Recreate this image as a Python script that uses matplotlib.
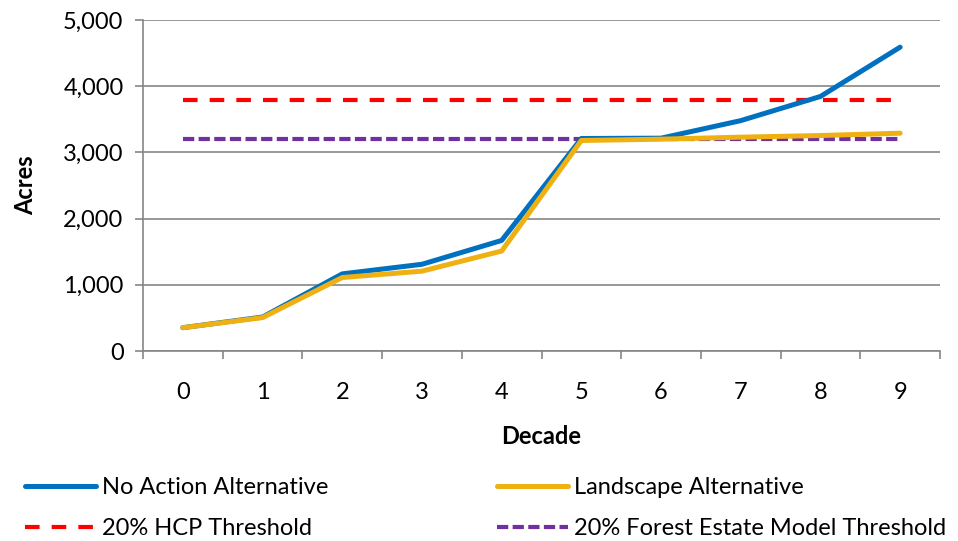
import matplotlib
matplotlib.use("Agg")
import matplotlib.pyplot as plt

plt.rcParams['font.family'] = ['Lato', 'DejaVu Sans']

decades = [0, 1, 2, 3, 4, 5, 6, 7, 8, 9]
no_action = [352, 513, 1165, 1310, 1670, 3210, 3215, 3480, 3845, 4590]
landscape = [352, 505, 1110, 1206, 1510, 3180, 3200, 3230, 3255, 3290]
hcp_threshold = [3795] * 10
fem_threshold = [3205] * 10
y_ticks = [0, 1000, 2000, 3000, 4000, 5000]

FS = 17
fig = plt.figure(figsize=(9.58, 5.41), dpi=100)
ax = fig.add_axes([143/958, 1-351/541, (940-143)/958, (351-20)/541])

grid_c = '#868686'
ax.plot(decades, hcp_threshold, color='#FF0000', lw=3, dashes=(3.5, 2.9), label='20% HCP Threshold', zorder=3)
ax.plot(decades, fem_threshold, color='#7030A0', lw=3, dashes=(2.7, 1.05), label='20% Forest Estate Model Threshold', zorder=3)
ax.plot(decades, no_action, color='#0070C0', lw=3.6, label='No Action Alternative', zorder=4, solid_capstyle='round')
ax.plot(decades, landscape, color='#EEB111', lw=3.6, label='Landscape Alternative', zorder=5, solid_capstyle='round')

ax.set_xlim(-0.5, 9.5)
ax.set_ylim(0, 5000)
ax.set_yticks(y_ticks)
ax.set_yticklabels([f"{v:,}" for v in y_ticks])
ax.yaxis.grid(True, color=grid_c, lw=1.2)
ax.set_axisbelow(True)

ax.set_xticks([i - 0.5 for i in range(11)])
ax.set_xticklabels([])
ax.set_xticks(decades, minor=True)
ax.set_xticklabels([str(d) for d in decades], minor=True)
ax.tick_params(axis='x', which='major', length=6, color=grid_c, width=1.2)
ax.tick_params(axis='x', which='minor', length=0, pad=22, labelsize=FS)
ax.tick_params(axis='y', length=6, color=grid_c, width=1.2, labelsize=FS, pad=8)

for s in ['top', 'right']:
    ax.spines[s].set_visible(False)
for s in ['left', 'bottom']:
    ax.spines[s].set_color(grid_c)
    ax.spines[s].set_linewidth(1.2)

ax.set_xlabel('Decade', fontsize=FS, fontweight='bold', labelpad=16)
ax.set_ylabel('Acres', fontsize=FS, fontweight='bold', labelpad=19)

h = {l.get_label(): l for l in ax.get_lines()}
leg_kw = dict(frameon=False, fontsize=FS, handlelength=3.0, handletextpad=0.25,
              labelspacing=0.85, borderaxespad=0, borderpad=0)
leg1 = fig.legend([h['No Action Alternative'], h['20% HCP Threshold']],
                  ['No Action Alternative', '20% HCP Threshold'],
                  loc='upper left', bbox_to_anchor=(25/958, 1-477/541), **leg_kw)
leg2 = fig.legend([h['Landscape Alternative'], h['20% Forest Estate Model Threshold']],
                  ['Landscape Alternative', '20% Forest Estate Model Threshold'],
                  loc='upper left', bbox_to_anchor=(497/958, 1-477/541), **leg_kw)

fig.savefig('out.png', dpi=100)
